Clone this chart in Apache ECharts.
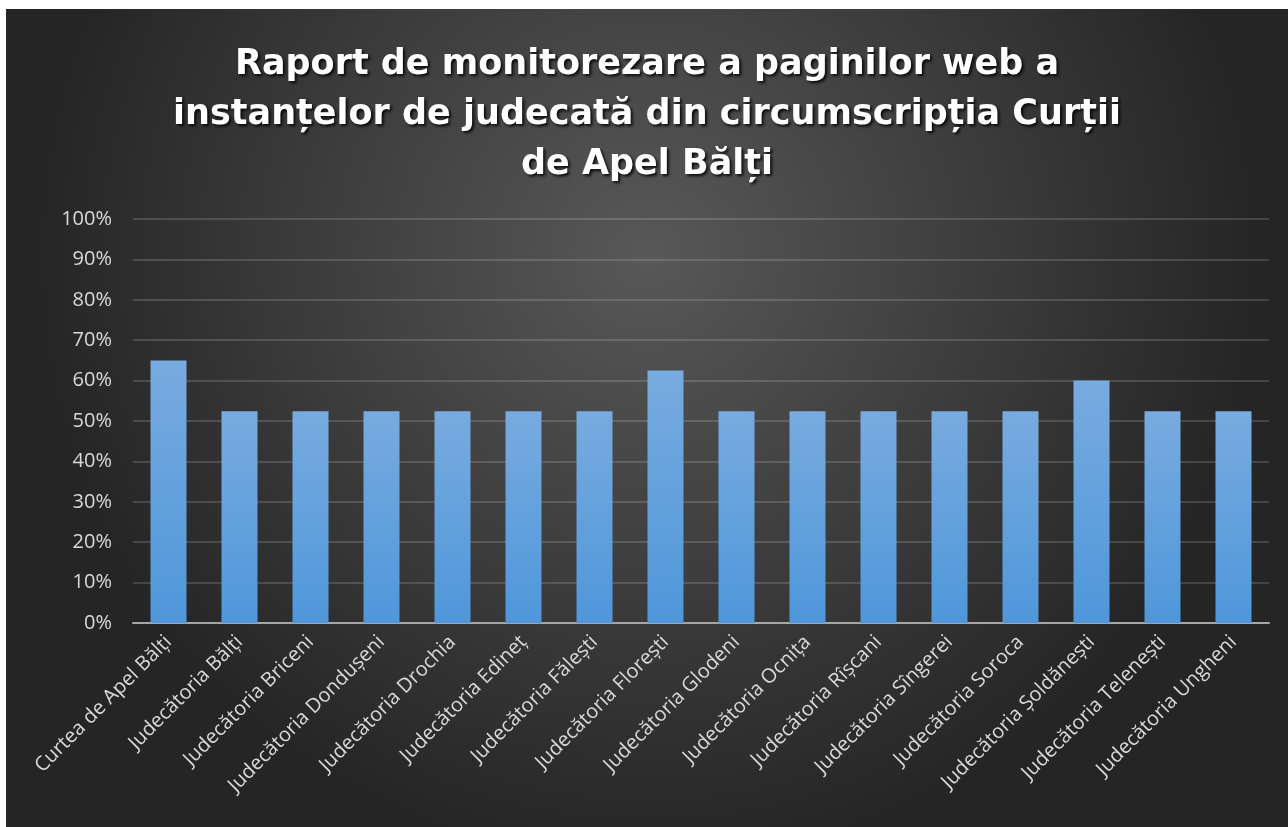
<!DOCTYPE html>
<html>
<head>
  <meta charset="utf-8">
  <title>Raport de monitorezare</title>
  <style>
    html, body { margin: 0; padding: 0; background: #ffffff; }
    #main { position: absolute; left: 6px; top: 9px; width: 1282px; height: 818px; }
  </style>
</head>
<body>
  <div id="main"></div>
  <script src="https://cdn.jsdelivr.net/npm/echarts@6/dist/echarts.min.js"></script>
  <script type="text/javascript">
  // instante de judecata
  const categories = [
    'Curtea de Apel Bălți',
    'Judecătoria Bălți',
    'Judecătoria Briceni',
    'Judecătoria Dondușeni',
    'Judecătoria Drochia',
    'Judecătoria Edineț',
    'Judecătoria Fălești',
    'Judecătoria Florești',
    'Judecătoria Glodeni',
    'Judecătoria Ocnița',
    'Judecătoria Rîșcani',
    'Judecătoria Sîngerei',
    'Judecătoria Soroca',
    'Judecătoria Șoldănești',
    'Judecătoria Telenești',
    'Judecătoria Ungheni'
  ];

  // procent (%)
  const values = [65, 52.4, 52.4, 52.4, 52.4, 52.4, 52.4, 62.5, 52.4, 52.4, 52.4, 52.4, 52.4, 60, 52.4, 52.4];

  const yMax = 100;
  const yStep = 10;

  const font = '"Open Sans", "Noto Sans", sans-serif';

  var chart = echarts.init(document.getElementById('main'));
  chart.setOption({
    animation: false,
    backgroundColor: {
      type: 'radial', x: 0.5, y: 0.3, r: 0.75,
      colorStops: [
        {offset: 0, color: '#585858'},
        {offset: 1, color: '#252525'}
      ]
    },
    title: {
      text: 'Raport de monitorezare a paginilor web a\ninstanțelor de judecată din circumscripția Curții\nde Apel Bălți',
      left: 'center',
      top: 26,
      textStyle: {
        color: '#ffffff',
        fontFamily: '"DejaVu Sans", sans-serif',
        fontWeight: 'bold',
        fontSize: 35,
        lineHeight: 50,
        textShadowColor: 'rgba(0,0,0,0.85)',
        textShadowBlur: 3,
        textShadowOffsetX: 2,
        textShadowOffsetY: 2
      }
    },
    grid: {
      left: 127,
      right: 19,
      top: 210,
      bottom: 204
    },
    xAxis: {
      type: 'category',
      data: categories,
      axisLine: {lineStyle: {color: '#a6a6a6', width: 2}},
      axisTick: {show: false},
      axisLabel: {
        interval: 0,
        rotate: 45,
        margin: 16,
        color: '#d9d9d9',
        fontFamily: font,
        fontSize: 20
      }
    },
    yAxis: {
      type: 'value',
      min: 0,
      max: yMax,
      interval: yStep,
      axisLine: {show: false},
      axisTick: {show: false},
      axisLabel: {
        margin: 21,
        color: '#d9d9d9',
        fontFamily: font,
        fontSize: 20,
        formatter: '{value}%'
      },
      splitLine: {lineStyle: {color: 'rgba(255,255,255,0.15)', width: 2}}
    },
    series: [{
      type: 'bar',
      data: values,
      barWidth: 36,
      itemStyle: {
        color: {
          type: 'linear', x: 0, y: 0, x2: 0, y2: 1,
          colorStops: [
            {offset: 0, color: '#78abdf'},
            {offset: 1, color: '#4f97da'}
          ]
        }
      }
    }]
  });
  </script>
</body>
</html>
